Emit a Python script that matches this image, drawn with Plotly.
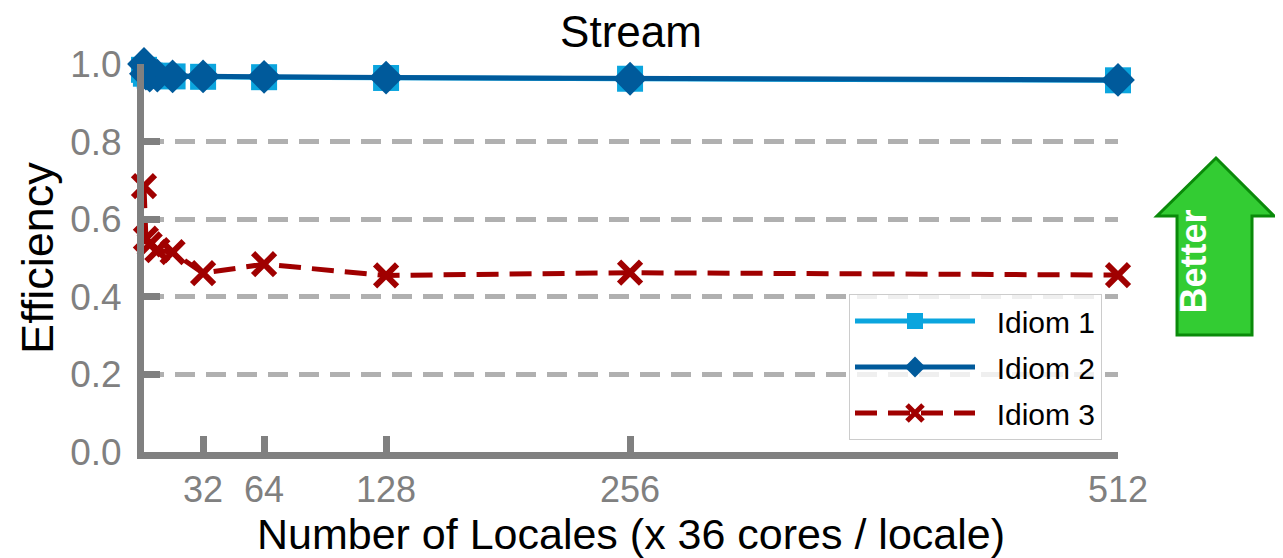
import plotly.graph_objects as go

locales = [1, 2, 4, 8, 16, 32, 64, 128, 256, 512]
idiom1 = [0.985, 0.975, 0.970, 0.970, 0.968, 0.967, 0.966, 0.964, 0.962, 0.958]
idiom2 = [1.000, 0.975, 0.970, 0.970, 0.968, 0.968, 0.967, 0.965, 0.962, 0.959]
idiom3 = [0.685, 0.550, 0.535, 0.520, 0.515, 0.461, 0.484, 0.455, 0.462, 0.456]
xticks = [32, 64, 128, 256, 512]
yticks = [0.0, 0.2, 0.4, 0.6, 0.8, 1.0]
names = ["Idiom 1", "Idiom 2", "Idiom 3"]

FONT = "Liberation Sans, Arial, sans-serif"
GRAY = "#808080"
NB = "\u00a0"

fig = go.Figure()
fig.add_trace(go.Scatter(x=locales, y=idiom1, name=NB * 2 + names[0], mode="lines+markers",
                         legendgroup="a",
                         line=dict(color="#0ba5de", width=5),
                         marker=dict(symbol="square", size=26, color="#0ba5de"),
                         cliponaxis=False))
fig.add_trace(go.Scatter(x=locales, y=idiom2, name=NB * 2 + names[1], mode="lines+markers",
                         legendgroup="b",
                         line=dict(color="#005a9b", width=5),
                         marker=dict(symbol="diamond", size=26, color="#005a9b"),
                         cliponaxis=False))
fig.add_trace(go.Scatter(x=locales, y=idiom3, name=NB * 2 + names[2], mode="lines+markers",
                         legendgroup="c",
                         line=dict(color="#a00000", width=5, dash="22px,11px"),
                         marker=dict(symbol="x-thin", size=22, color="#a00000",
                                     line=dict(color="#a00000", width=6)),
                         cliponaxis=False))

# the page body has an 8px margin: shift the figure so it lines up with the window
OFF = 8
W, H = 1283 - OFF, 558 - OFF
X0, X1, Y0, Y1 = 144, 1118, 452, 64          # plot area in window pixels
L, T = X0 - OFF, Y1 - OFF
R, B = W - (X1 - OFF), H - (Y0 - OFF)
pw, ph = X1 - X0, Y0 - Y1

def px(xp):
    return (xp - X0) / pw

def py(yp):
    return (Y0 - yp) / ph

arrow = [(1216, 158), (1274, 216), (1252, 216), (1252, 335), (1177, 335), (1177, 216), (1157, 216)]
path = "M " + " L ".join(f"{px(a):.4f},{py(b):.4f}" for a, b in arrow) + " Z"
fig.add_shape(type="path", xref="paper", yref="paper", path=path,
              fillcolor="#33cc33", line=dict(color="#0a8a0a", width=3), layer="above")
fig.add_annotation(xref="paper", yref="paper", x=px(1215), y=py(262), text="<b>Better</b>",
                   showarrow=False, textangle=-90,
                   font=dict(family=FONT, size=36, color="white"))

fig.update_layout(
    width=W, height=H,
    margin=dict(l=L, r=R, t=T, b=B, autoexpand=False),
    plot_bgcolor="white", paper_bgcolor="white",
    font=dict(family=FONT, color="black"),
    title=dict(text="Stream", x=0.5, xref="paper", y=1 - (32 - OFF) / H, yanchor="middle",
               font=dict(size=44, color="black")),
    showlegend=True,
    legend=dict(x=px(1102), y=py(440), xanchor="right", yanchor="bottom",
                bgcolor="rgba(255,255,255,0.8)", bordercolor="#cccccc", borderwidth=1,
                font=dict(size=30, color="black"), itemwidth=120, tracegroupgap=4),
)
fig.update_xaxes(range=[1, 512], tickvals=xticks, ticktext=[str(v) for v in xticks],
                 automargin=False,
                 showgrid=False, zeroline=False, showline=True, linecolor=GRAY, linewidth=7,
                 ticks="inside", ticklen=16, tickwidth=7, tickcolor=GRAY,
                 tickfont=dict(size=36, color=GRAY),
                 title=dict(text="Number of Locales (x 36 cores / locale)", font=dict(size=43, color="black"), standoff=0))
fig.update_yaxes(range=[0, 1.0], tickvals=yticks, ticktext=[f"{v:.1f}" for v in yticks],
                 automargin=False,
                 showgrid=True, gridcolor="#b0b0b0", gridwidth=5, griddash="20px,11px",
                 zeroline=False, showline=True, linecolor=GRAY, linewidth=7,
                 ticks="inside", ticklen=16, tickwidth=7, tickcolor=GRAY,
                 ticklabelstandoff=8,
                 tickfont=dict(size=37, color=GRAY),
                 title=dict(text="Efficiency", font=dict(size=45, color="black"), standoff=5))

fig.write_html("out.html")
